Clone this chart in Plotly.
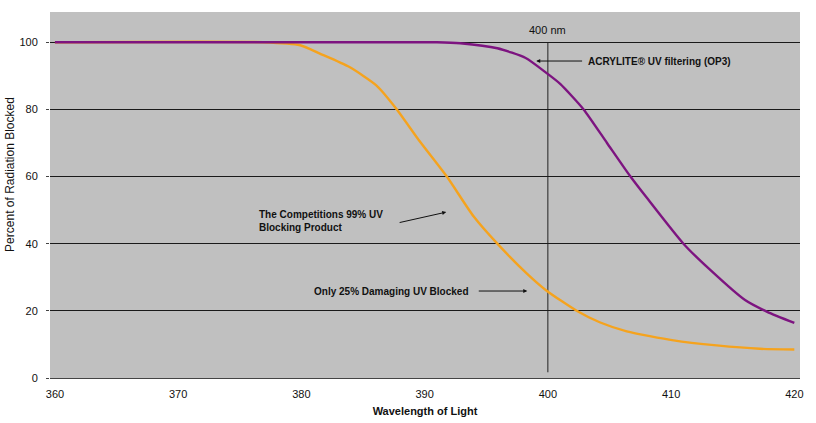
import plotly.graph_objects as go

# Data
wl_acrylite = [360, 391, 392.9, 395.9, 398.2, 399.9, 401.0, 402.9, 404.8, 406.7, 408.0, 411.0, 413.2, 416.0, 417.8, 420]
val_acrylite = [100, 100, 99.7, 98.2, 95.3, 90.8, 87.6, 80, 70, 60, 53.8, 40, 32.1, 23.2, 19.7, 16.4]

wl_comp = [360, 376.9, 379.9, 381.5, 383.9, 386.1, 387.7, 389.6, 391.8, 394.0, 395.9, 398.3, 399.9, 402.3, 404.2, 406.4, 410.2, 413.7, 417.2, 420]
val_comp = [100, 100, 99.1, 96.6, 92.6, 87.1, 80.2, 70.5, 60, 48, 40, 31.1, 26, 20.1, 16.6, 13.9, 11.2, 9.7, 8.7, 8.5]

x_ticks = [360, 370, 380, 390, 400, 410, 420]
y_ticks = [0, 20, 40, 60, 80, 100]

marker_wl = 400
marker_top = 100
marker_bottom = 1.7

FONT = "Liberation Sans, Arial, sans-serif"

fig = go.Figure()
fig.add_trace(go.Scatter(x=wl_comp, y=val_comp, mode="lines",
                         line=dict(color="#F5A31E", width=2.4, shape="spline", smoothing=0.6),
                         showlegend=False, hoverinfo="skip"))
fig.add_trace(go.Scatter(x=wl_acrylite, y=val_acrylite, mode="lines",
                         line=dict(color="#7D1480", width=2.4, shape="spline", smoothing=0.6),
                         showlegend=False, hoverinfo="skip"))

fig.add_shape(type="line", x0=marker_wl, x1=marker_wl, y0=marker_bottom, y1=marker_top,
              xref="x", yref="y", line=dict(color="#222222", width=1), layer="below")

ann_font = dict(family=FONT, size=10, color="#111111")
fig.add_annotation(x=marker_wl, y=101.4, text="400 nm", showarrow=False,
                   xref="x", yref="y", yanchor="bottom", font=dict(family=FONT, size=11, color="#111111"))
# ACRYLITE label with arrow pointing left
fig.add_annotation(x=403.1, y=94.4, text="<b>ACRYLITE® UV filtering (OP3)</b>", showarrow=False,
                   xref="x", yref="y", xanchor="left", font=ann_font)
fig.add_annotation(x=399.06, y=94.4, ax=402.9, ay=94.4, axref="x", ayref="y",
                   xref="x", yref="y", text="", showarrow=True, arrowhead=2,
                   arrowsize=0.8, arrowwidth=1, arrowcolor="#111111")
# Competition label
fig.add_annotation(x=376.4, y=46.7, text="<b>The Competitions 99% UV<br>Blocking Product</b>", showarrow=False,
                   xref="x", yref="y", xanchor="left", align="left", font=ann_font)
fig.add_annotation(x=391.75, y=49.4, ax=387.85, ay=46.2, axref="x", ayref="y",
                   xref="x", yref="y", text="", showarrow=True, arrowhead=2,
                   arrowsize=0.8, arrowwidth=1, arrowcolor="#111111")
# Only 25% label
fig.add_annotation(x=380.9, y=25.9, text="<b>Only 25% Damaging UV Blocked</b>", showarrow=False,
                   xref="x", yref="y", xanchor="left", font=ann_font)
fig.add_annotation(x=398.33, y=25.9, ax=394.27, ay=25.9, axref="x", ayref="y",
                   xref="x", yref="y", text="", showarrow=True, arrowhead=2,
                   arrowsize=0.8, arrowwidth=1, arrowcolor="#111111")

# Y-axis title (placed as annotation to match the reference's off-centre position)
fig.add_annotation(x=-0.0533, y=0.555, xref="paper", yref="paper", text="Percent of Radiation Blocked",
                   textangle=-90, showarrow=False, xanchor="center", yanchor="middle",
                   font=dict(family=FONT, size=12, color="#111111"))

fig.update_layout(
    width=816, height=423,
    margin=dict(l=50, r=16, t=12, b=45),
    paper_bgcolor="white",
    plot_bgcolor="#C0C0C0",
    font=dict(family=FONT, size=11, color="#111111"),
    xaxis=dict(range=[359.6, 420.46], tickvals=x_ticks, showgrid=False, zeroline=False,
               showline=True, linecolor="#444444", linewidth=1, ticks="", ticklen=0,
               ticklabelstandoff=6, automargin=False,
               tickfont=dict(family=FONT, size=11),
               title=dict(text="<b>Wavelength of Light</b>", font=dict(family=FONT, size=11), standoff=8)),
    yaxis=dict(range=[0, 109], tickvals=y_ticks, showgrid=True, gridcolor="#1a1a1a", gridwidth=1,
               zeroline=False, showline=False, ticks="outside", ticklen=3, tickcolor="#444444",
               ticklabelstandoff=6, automargin=False,
               tickfont=dict(family=FONT, size=11)),
)

fig.write_html("out.html", config={"displayModeBar": False},
               post_script="document.body.style.margin='0';")
